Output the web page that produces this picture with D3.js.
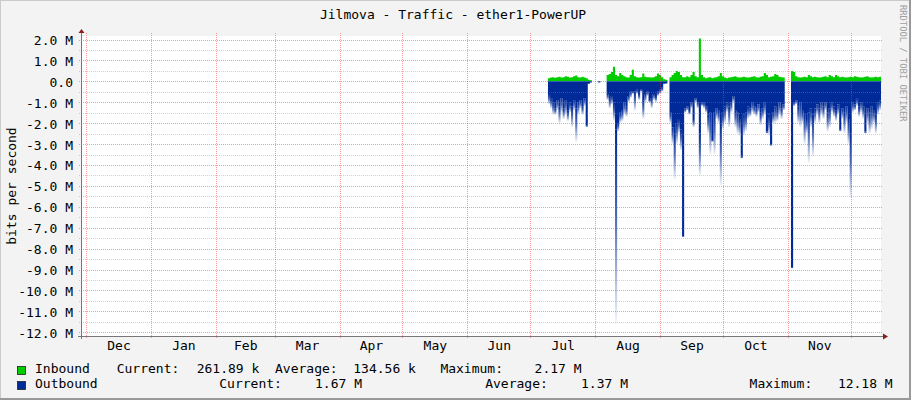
<!DOCTYPE html>
<html><head><meta charset="utf-8">
<script src="https://cdn.jsdelivr.net/npm/d3@7"></script>
<style>
html,body{margin:0;padding:0;background:#f3f3f3;overflow:hidden;}
svg text{font-family:"DejaVu Sans Mono",monospace;}
</style></head><body>
<svg id="chart" width="911" height="400"></svg>
<script>
// ---------------- DATA ----------------
const title = "Jilmova - Traffic - ether1-PowerUP";
const yAxisTitle = "bits per second";
const watermark = "RRDTOOL / TOBI OETIKER";
const timeStart = "2018-11-28T14:43:00Z";
const timeEnd   = "2019-12-15T10:50:00Z";
const dataStart = "2019-07-09T12:00:00Z"; // one sample per day
const yTickValues = [2, 1, 0, -1, -2, -3, -4, -5, -6, -7, -8, -9, -10, -11, -12];
const yTickLabels = ["2.0 M","1.0 M","0.0","-1.0 M","-2.0 M","-3.0 M","-4.0 M","-5.0 M","-6.0 M","-7.0 M","-8.0 M","-9.0 M","-10.0 M","-11.0 M","-12.0 M"];
const yMinorStep = 0.5;
const yDomain = [-12.18, 2.17]; // M bits/s
// Inbound (M bits/s), daily
const inbound = [
 0.15,0.18,0.20,0.17,0.20,0.22,0.18,0.20,0.25,0.22,
 0.18,0.20,0.24,0.28,0.20,0.18,0.22,0.18,0.15,0.08,
 0.05,null,null,null,0.02,null,null,null,0.30,0.35,
 0.45,0.70,0.30,0.25,0.40,0.30,0.25,0.20,0.18,0.30,
 0.55,0.25,0.20,0.18,0.20,0.38,0.22,0.20,0.20,0.18,
 0.20,0.25,0.38,0.30,0.20,0.10,0.08,null,0.20,0.30,
 0.40,0.50,0.45,0.30,0.20,0.20,0.25,0.20,0.30,0.45,
 0.25,0.20,2.05,0.30,0.20,0.15,0.18,0.20,0.15,0.18,
 0.20,0.25,0.40,0.25,0.18,0.15,0.18,0.20,0.22,0.25,
 0.20,0.18,0.20,0.22,0.20,0.18,0.20,0.22,0.25,0.20,
 0.18,0.22,0.25,0.40,0.30,0.20,0.22,0.25,0.35,0.30,
 0.22,0.20,0.18,null,null,null,0.50,0.45,0.25,0.20,
 0.18,0.20,0.22,0.20,0.30,0.25,0.20,0.22,0.20,0.18,
 0.20,0.22,0.25,0.20,0.30,0.25,0.20,0.30,0.25,0.20,
 0.22,0.20,0.18,0.20,0.22,0.20,0.25,0.22,0.20,0.18,
 0.20,0.22,0.25,0.20,0.18,0.20,0.22,0.20,0.22,0.26
];
// Outbound average (solid part), M bits/s, daily
const outSolid = [
 0.6,0.8,1.0,1.3,0.9,1.2,0.8,1.3,0.9,1.4,
 1.0,1.2,0.9,1.3,1.0,0.9,1.2,0.8,2.1,0.1,
 0.05,null,null,null,0.05,null,null,null,0.6,0.8,
 0.7,1.0,2.3,2.0,1.5,1.4,1.0,1.2,0.7,0.5,
 0.5,0.5,0.4,0.6,0.4,0.9,0.6,0.5,0.9,0.8,
 0.6,0.7,0.5,0.4,0.3,0.1,0.1,null,1.5,2.2,
 2.5,2.0,1.8,2.3,7.4,1.3,1.2,1.4,1.0,1.8,
 0.8,1.0,2.5,1.0,1.0,1.2,1.6,1.5,2.8,1.5,
 1.3,1.4,2.0,1.5,1.2,1.0,1.2,1.0,0.7,1.4,
 1.5,1.8,3.6,1.6,1.5,1.2,1.3,1.0,1.2,1.3,
 1.1,1.5,1.3,1.0,2.4,1.6,3.0,1.5,1.2,1.4,
 1.0,1.3,1.1,null,null,null,8.9,1.0,0.9,1.2,
 1.0,1.4,1.6,1.8,1.5,1.3,1.6,1.3,1.1,1.3,
 1.0,1.2,1.0,1.5,1.3,1.0,1.2,1.4,1.1,2.3,
 1.3,1.5,1.2,1.8,2.5,1.0,1.1,0.8,1.2,1.0,
 1.2,2.4,1.3,1.5,1.2,1.4,1.6,1.0,0.9,1.7
];
// Outbound peak (fading tip), M bits/s, daily
const outPeak = [
 1.1,1.3,1.6,1.6,1.4,2.0,1.5,1.8,1.6,1.9,
 1.5,2.2,1.4,2.9,1.6,1.3,1.6,1.2,2.2,0.15,
 0.05,null,null,null,0.05,null,null,null,0.9,1.3,
 1.1,1.9,11.6,2.4,2.0,1.9,1.6,1.7,1.0,0.8,
 0.6,1.4,0.6,0.9,0.5,1.8,1.0,0.7,1.0,1.3,
 0.9,1.0,0.7,0.6,0.5,0.15,0.1,null,2.0,3.0,
 4.7,3.0,2.5,3.3,7.45,1.5,1.4,1.6,1.3,2.2,
 1.0,1.3,4.5,1.2,1.3,1.5,2.5,3.5,2.9,3.5,
 1.8,2.0,5.0,2.3,2.0,1.5,2.2,1.5,1.0,2.2,
 2.5,2.6,3.7,2.6,2.4,1.8,1.7,1.5,1.6,1.7,
 1.5,2.1,1.8,1.6,2.5,2.6,3.1,2.0,2.0,1.9,
 1.6,1.8,1.4,null,null,null,8.95,1.2,1.1,2.0,
 2.2,2.0,3.0,2.5,3.9,2.2,3.6,2.0,1.6,2.0,
 1.6,1.8,1.4,2.4,2.2,1.5,1.7,1.9,1.6,2.4,
 1.8,2.5,2.0,3.0,5.6,1.5,1.4,1.2,1.7,1.5,
 1.8,2.5,2.0,2.5,2.3,2.0,2.5,1.6,1.4,1.7
];
const seriesNames = ["Inbound", "Outbound"];
const legendInbound  = ["Current:", "261.89 k", "Average:", "134.56 k", "Maximum:", "2.17 M"];
const legendOutbound = ["Current:", "1.67 M", "Average:", "1.37 M", "Maximum:", "12.18 M"];

// ---------------- DRAWING ----------------
const W = 911, H = 400;
const X0 = 81, X1 = 881, Y0 = 36, Y1 = 336;
const colIn = "#00cc00", colOut = "#002a97";
const svg = d3.select("#chart");
const defs = svg.append("defs");

const x = d3.scaleUtc().domain([new Date(timeStart), new Date(timeEnd)]).range([X0, X1]);
const y = d3.scaleLinear().domain(yDomain).range([Y1, Y0]);
const day0 = new Date(dataStart);
const dayAt = i => d3.utcDay.offset(day0, i);

// background + frame
svg.append("rect").attr("width", W).attr("height", H).attr("fill", "#f3f3f3");
svg.append("path").attr("d", `M0,${H} V0 H${W}`).attr("fill", "none").attr("stroke", "#cbcbcb").attr("stroke-width", 2);
svg.append("path").attr("d", `M0,${H-1} H${W-1} V0`).attr("fill", "none").attr("stroke", "#999").attr("stroke-width", 2);

// canvas
svg.append("rect").attr("x", X0).attr("y", Y0).attr("width", X1 - X0).attr("height", Y1 - Y0).attr("fill", "#fff");

defs.append("clipPath").attr("id", "plotClip").append("rect")
  .attr("x", X0).attr("y", Y0).attr("width", X1 - X0).attr("height", Y1 - Y0);

const fade = defs.append("linearGradient").attr("id", "fadeBlue")
  .attr("x1", 0).attr("y1", 0).attr("x2", 0).attr("y2", 1);
fade.append("stop").attr("offset", "0%").attr("stop-color", colOut).attr("stop-opacity", 1);
fade.append("stop").attr("offset", "45%").attr("stop-color", colOut).attr("stop-opacity", 0.7);
fade.append("stop").attr("offset", "100%").attr("stop-color", colOut).attr("stop-opacity", 0.04);

function stepPoints(arr, sign) {
  const pts = [];
  arr.forEach((v, i) => {
    if (v == null) { pts.push({t: dayAt(i), v: null}); return; }
    pts.push({t: dayAt(i), v: sign * v});
    if (i === arr.length - 1 || arr[i + 1] == null) pts.push({t: dayAt(i + 1), v: sign * v});
  });
  return pts;
}

const plot = svg.append("g").attr("clip-path", "url(#plotClip)");
const area = d3.area().curve(d3.curveStepAfter).defined(d => d.v != null)
  .x(d => x(d.t)).y0(y(0)).y1(d => y(d.v));

plot.append("path").datum(stepPoints(inbound, 1)).attr("d", area).attr("fill", colIn);
plot.append("path").datum(stepPoints(outSolid, -1)).attr("d", area).attr("fill", colOut);

const tips = outPeak.map((p, i) => ({i, s: outSolid[i], p})).filter(d => d.p != null && d.p > d.s);
plot.selectAll("rect.tip").data(tips).join("rect").attr("class", "tip")
  .attr("x", d => x(dayAt(d.i)))
  .attr("width", d => x(dayAt(d.i + 1)) - x(dayAt(d.i)))
  .attr("y", d => y(-d.s))
  .attr("height", d => y(-d.p) - y(-d.s))
  .attr("fill", "url(#fadeBlue)");

// grid (drawn over data)
const grid = svg.append("g");
const minorVals = d3.range(-12, 2.01, yMinorStep).filter(v => Math.abs(v - Math.round(v)) > 1e-6);
grid.selectAll("line.minor").data(minorVals).join("line")
  .attr("x1", X0 - 2).attr("x2", X1 + 2).attr("y1", d => Math.round(y(d)) + 0.5).attr("y2", d => Math.round(y(d)) + 0.5)
  .attr("stroke", "rgba(140,140,140,0.4)").attr("stroke-dasharray", "1,1");
grid.selectAll("line.major").data(yTickValues).join("line")
  .attr("x1", X0 - 2).attr("x2", X1 + 2).attr("y1", d => Math.round(y(d)) + 0.5).attr("y2", d => Math.round(y(d)) + 0.5)
  .attr("stroke", "rgba(235,60,60,0.5)").attr("stroke-dasharray", "1,1");
const months = d3.utcMonth.range(new Date(timeStart), new Date(timeEnd));
grid.selectAll("line.vmajor").data(months).join("line")
  .attr("x1", d => Math.round(x(d)) + 0.5).attr("x2", d => Math.round(x(d)) + 0.5)
  .attr("y1", Y0 - 3).attr("y2", Y1 + 3)
  .attr("stroke", "rgba(235,60,60,0.5)").attr("stroke-dasharray", "1,1");

// axis lines
svg.append("line").attr("x1", X0 + 0.5).attr("x2", X0 + 0.5).attr("y1", Y1 + 3).attr("y2", Y0 - 4).attr("stroke", "#777");
svg.append("line").attr("x1", X0 - 3).attr("x2", X1 + 3).attr("y1", Y1 + 0.5).attr("y2", Y1 + 0.5).attr("stroke", "#777");
svg.append("path").attr("d", `M${X0 - 2.5},${Y0 - 3} L${X0 + 0.5},${Y0 - 7} L${X0 + 3.5},${Y0 - 3} Z`).attr("fill", "#8b1c1c");
svg.append("path").attr("d", `M${X1 + 2},${Y1 - 2.5} L${X1 + 7},${Y1 + 0.5} L${X1 + 2},${Y1 + 3.5} Z`).attr("fill", "#8b1c1c");

// y axis labels
const yAxis = d3.axisLeft(y).tickValues(yTickValues).tickFormat((d, i) => yTickLabels[i]).tickSize(0).tickPadding(8);
const gy = svg.append("g").attr("transform", `translate(${X0},0)`).call(yAxis);
gy.select(".domain").remove();
gy.selectAll("text").attr("font-family", "DejaVu Sans Mono").attr("font-size", 13).attr("fill", "#000").attr("dy", "0.38em");

// x axis labels: mid-month
const mids = months.map(m => new Date((+m + +d3.utcMonth.offset(m, 1)) / 2))
  .filter(d => d >= new Date(timeStart) && d <= new Date(timeEnd));
const xAxis = d3.axisBottom(x).tickValues(mids).tickFormat(d3.utcFormat("%b")).tickSize(0).tickPadding(5);
const gx = svg.append("g").attr("transform", `translate(0,${Y1})`).call(xAxis);
gx.select(".domain").remove();
gx.selectAll("text").attr("font-family", "DejaVu Sans Mono").attr("font-size", 13).attr("fill", "#000");

// title
svg.append("text").attr("x", 453).attr("y", 19).attr("text-anchor", "middle").attr("font-size", 13).text(title);
// y title
svg.append("text").attr("transform", "translate(15.5,186) rotate(-90)").attr("text-anchor", "middle").attr("font-size", 13).text(yAxisTitle);
// watermark
svg.append("text").attr("transform", "translate(900,5) rotate(90)").attr("font-size", 8.8).attr("fill", "#a0a0a0").text(watermark);

// legend
const legendRows = [
  {name: seriesNames[0], color: colIn, items: legendInbound, xs: [116.7, 196.7, 275, 353.3, 440.4, 534.6], base: 373},
  {name: seriesNames[1], color: colOut, items: legendOutbound, xs: [219.3, 315, 485.2, 581, 749.6, 837.9], base: 388}
];
legendRows.forEach(r => {
  svg.append("rect").attr("x", 17.5).attr("y", r.base - 6.5).attr("width", 8).attr("height", 8)
    .attr("fill", r.color).attr("stroke", "#222").attr("stroke-width", 0.8);
  svg.append("text").attr("x", 35).attr("y", r.base).attr("font-size", 13).text(r.name);
  r.items.forEach((t, k) => svg.append("text").attr("x", r.xs[k]).attr("y", r.base).attr("font-size", 13).text(t));
});
</script>
</body></html>
